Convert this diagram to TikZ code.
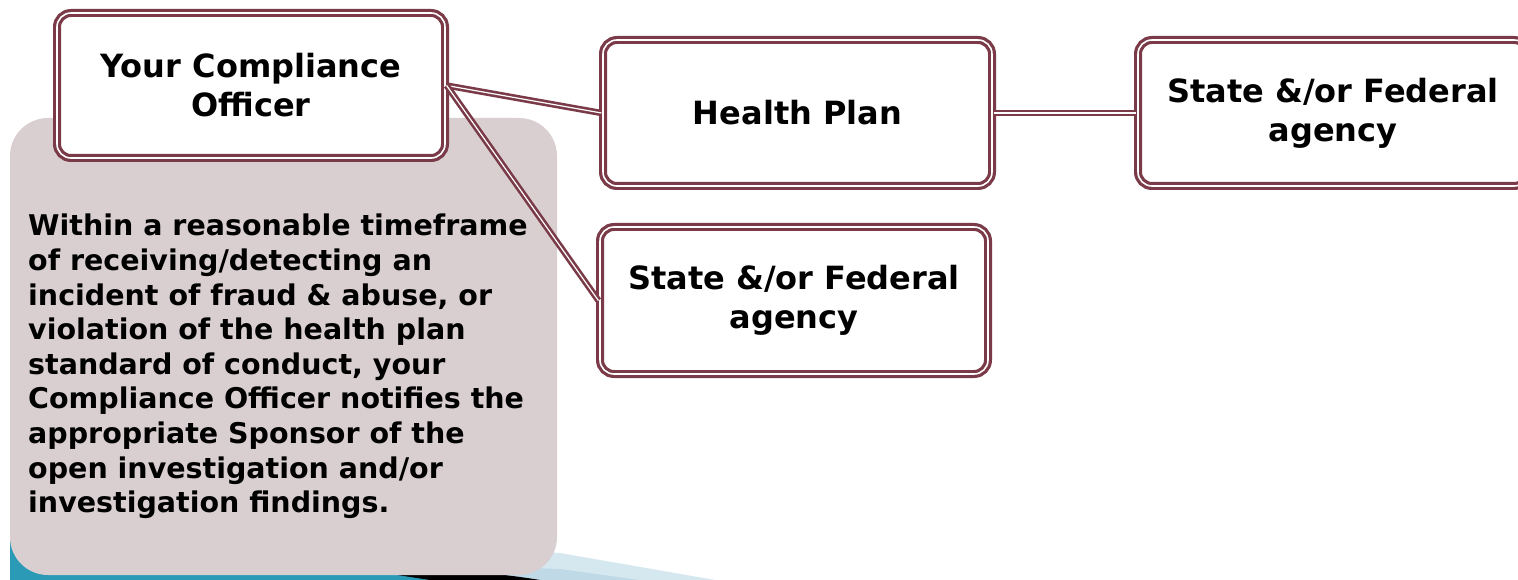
\documentclass[tikz,border=0pt]{standalone}
\usepackage{fontspec}
\setmainfont{DejaVu Sans}
\begin{document}
\begin{tikzpicture}[x=1pt,y=-1pt,
  boxstyle/.style={draw=maroon, line width=3.2pt, double=white, double distance=1.6pt,
    rounded corners=14pt, fill=white, inner sep=0pt, align=center,
    font=\fontsize{32}{39}\selectfont\bfseries},
  link/.style={draw=maroon, line width=2.6pt, double=white, double distance=1.2pt},
  note/.style={fill=notegray, rounded corners=38pt, draw=none}]
\definecolor{maroon}{HTML}{7A3A48}
\definecolor{notegray}{HTML}{D9CFD1}
\definecolor{teal}{HTML}{2A9AB6}
\definecolor{paleblue}{HTML}{D6E8EF}
\definecolor{paleblue2}{HTML}{BFDAE6}
\useasboundingbox (0,0) rectangle (1518,580);
\fill[white] (0,0) rectangle (1518,580);
% background swooshes at the bottom
\fill[paleblue] (420,545) -- (560,553) -- (715,580) -- (420,580) -- cycle;
\fill[paleblue2] (450,565) -- (560,569) -- (640,580) -- (450,580) -- cycle;
\fill[teal] (10,525) -- (420,560) -- (440,580) -- (10,580) -- cycle;
\fill[black] (300,560) .. controls (400,566) and (480,570) .. (540,580) -- (430,580) -- cycle;
% note panel
\path[note] (10,118) rectangle (557,575);
\node[anchor=north west, inner sep=0pt, align=left,
  font=\fontsize{28.5}{34.6}\selectfont\bfseries] (txt) at (28,214)
  {Within a reasonable timeframe\\of receiving/detecting an\\incident of fraud \& abuse, or\\violation of the health plan\\standard of conduct, your\\Compliance Officer notifies the\\appropriate Sponsor of the\\open investigation and/or\\investigation findings.};
% boxes
\node[boxstyle, minimum width=388pt, minimum height=145pt] (co) at (251,85.5) {Your Compliance\\Officer};
\node[boxstyle, minimum width=389pt, minimum height=146pt] (hp) at (797.5,113) {Health Plan};
\node[boxstyle, minimum width=390pt, minimum height=146pt] (sf1) at (1333,113) {State \&/or Federal\\agency};
\node[boxstyle, minimum width=388pt, minimum height=147pt] (sf2) at (794,300.5) {State \&/or Federal\\agency};
% connectors
\draw[link] (co.east) -- (hp.west);
\draw[link] (co.east) -- (sf2.west);
\draw[link] (hp.east) -- (sf1.west);
\end{tikzpicture}
\end{document}
